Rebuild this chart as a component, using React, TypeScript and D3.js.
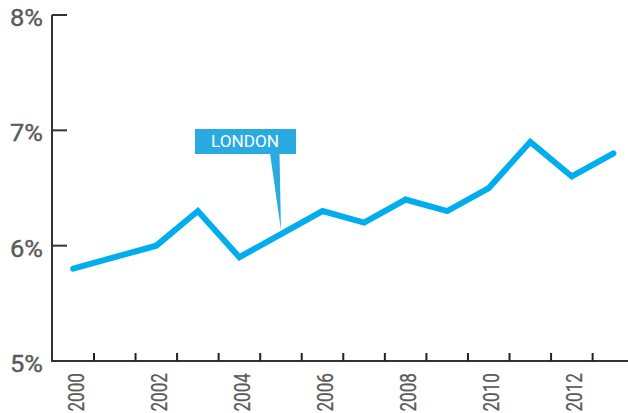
import React from "react";
import * as d3 from "d3";

const years = [2000, 2001, 2002, 2003, 2004, 2005, 2006, 2007, 2008, 2009, 2010, 2011, 2012, 2013];
const values = [5.8, 5.9, 6.0, 6.3, 5.9, 6.1, 6.3, 6.2, 6.4, 6.3, 6.5, 6.9, 6.6, 6.8];
const yTicks = [5, 6, 7, 8];
const xLabelYears = [2000, 2002, 2004, 2006, 2008, 2010, 2012];
const seriesLabel = "LONDON";

const W = 628;
const H = 413;
const FONT = "Roboto, 'Liberation Sans', sans-serif";

export default function App() {
  const x = d3.scaleLinear().domain([2000, 2013]).range([73.2, 613.4]);
  const y = d3.scaleLinear().domain([5, 8]).range([361, 15]);
  const line = d3
    .line<number>()
    .x((_, i) => x(years[i]))
    .y((d) => y(d));
  const axisX = 52;
  const tickYears = d3.range(2000.5, 2013, 1);
  const tipX = x(2005);
  const tipY = y(values[5]) - 4;

  return (
    <svg width={W} height={H} style={{ position: "absolute", left: 0, top: 0, background: "#fff" }}>
      {/* y axis */}
      <line x1={axisX} x2={axisX} y1={y(8)} y2={y(5) + 1} stroke="#333" strokeWidth={2} />
      {yTicks.map((t) => (
        <g key={t}>
          {t !== 5 && <line x1={axisX} x2={axisX + 15} y1={y(t)} y2={y(t)} stroke="#333" strokeWidth={2} />}
          <text
            x={10}
            y={y(t) + 11}
            textLength={33}
            lengthAdjust="spacingAndGlyphs"
            fontFamily={FONT}
            fontWeight={400}
            fontSize={23.5}
            fill="#5a5a5a"
            stroke="#5a5a5a"
            strokeWidth={0.4}
          >
            {t}%
          </text>
        </g>
      ))}
      {/* x axis */}
      <line x1={axisX - 1} x2={W} y1={y(5)} y2={y(5)} stroke="#333" strokeWidth={2} />
      {tickYears.map((t) => (
        <line key={t} x1={x(t)} x2={x(t)} y1={y(5) - 8} y2={y(5)} stroke="#222" strokeWidth={2} />
      ))}
      {xLabelYears.map((yr) => (
        <text
          key={yr}
          transform={`translate(${x(yr) + 10.5},${411.5}) rotate(-90)`}
          textLength={38.5}
          lengthAdjust="spacingAndGlyphs"
          fontFamily={FONT}
          fontWeight={400}
          fontSize={22}
          fill="#5a5a5a"
          stroke="#5a5a5a"
          strokeWidth={0.3}
        >
          {yr}
        </text>
      ))}
      {/* series line */}
      <path
        d={line(values) || ""}
        fill="none"
        stroke="#00AEEF"
        strokeWidth={6}
        strokeLinejoin="miter"
        strokeLinecap="round"
      />
      {/* annotation */}
      <path d={`M270,153 L279.5,153 L${tipX},${tipY} Z`} fill="#29ABE2" />
      <rect x={195} y={129} width={101} height={25} fill="#29ABE2" />
      <text
        x={211}
        y={147.3}
        textLength={68}
        lengthAdjust="spacingAndGlyphs"
        fontFamily={FONT}
        fontWeight={400}
        fontSize={17}
        fill="#fff"
      >
        {seriesLabel}
      </text>
    </svg>
  );
}
